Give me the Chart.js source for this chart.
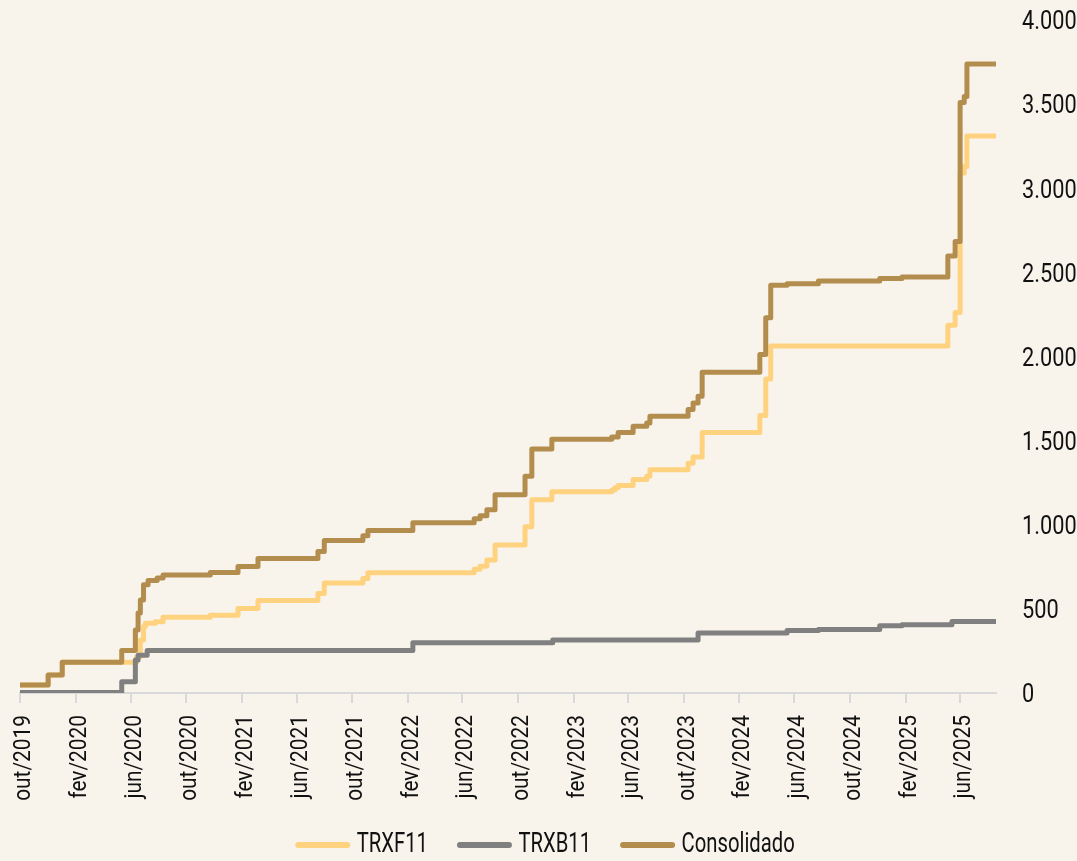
<!DOCTYPE html>
<html><head><meta charset="utf-8">
<script src="https://cdn.jsdelivr.net/npm/chart.js@4.4.1/dist/chart.umd.min.js"></script>
<style>html,body{margin:0;padding:0;background:#f8f4ec;overflow:hidden;}canvas{display:block;}</style>
</head><body>
<canvas id="c" width="1077" height="861"></canvas>
<script>
// ---- data ----
const tickDates = ['2019-10-01','2020-02-01','2020-06-01','2020-10-01','2021-02-01','2021-06-01','2021-10-01','2022-02-01','2022-06-01','2022-10-01','2023-02-01','2023-06-01','2023-10-01','2024-02-01','2024-06-01','2024-10-01','2025-02-01','2025-06-01'];
const tickLabels = ['out/2019','fev/2020','jun/2020','out/2020','fev/2021','jun/2021','out/2021','fev/2022','jun/2022','out/2022','fev/2023','jun/2023','out/2023','fev/2024','jun/2024','out/2024','fev/2025','jun/2025'];
const startDate = '2019-10-01';
const endDate = '2025-08-19';

const trxfDates = ['2019-10-01','2019-12-02','2020-01-02','2020-06-14','2020-06-22','2020-06-29','2020-07-03','2020-07-25','2020-08-11','2020-11-23','2021-01-23','2021-03-08','2021-07-18','2021-08-01','2021-10-25','2021-11-05','2022-06-27','2022-07-10','2022-07-25','2022-08-12','2022-10-17','2022-11-01','2022-12-15','2023-04-26','2023-05-03','2023-05-10','2023-06-12','2023-07-12','2023-07-19','2023-10-11','2023-10-22','2023-11-11','2024-03-17','2024-03-30','2024-04-10','2025-05-05','2025-05-21','2025-06-01','2025-06-10','2025-06-16'];
const trxfValues = [48,107,183,216,315,395,415,424,450,462,502,550,591,654,681,714,735,754,790,880,988,1148,1196,1207,1220,1234,1269,1289,1327,1366,1402,1549,1650,1866,2062,2186,2261,3090,3130,3311];

const trxbDates = ['2019-10-01','2020-05-12','2020-06-11','2020-06-17','2020-07-07','2022-02-12','2022-12-17','2023-11-02','2024-05-16','2024-07-24','2024-12-06','2025-01-24','2025-05-14'];
const trxbValues = [3,67,196,225,252,298,315,357,371,378,399,405,425];

const consDates = ['2019-10-01','2019-12-02','2020-01-02','2020-05-12','2020-06-11','2020-06-17','2020-06-22','2020-06-29','2020-07-09','2020-07-29','2020-08-11','2020-11-23','2021-01-23','2021-03-08','2021-07-18','2021-08-01','2021-10-25','2021-11-05','2022-02-12','2022-06-27','2022-07-10','2022-07-25','2022-08-12','2022-10-17','2022-11-01','2022-12-15','2023-04-26','2023-05-10','2023-06-12','2023-07-12','2023-07-19','2023-10-11','2023-10-22','2023-11-02','2023-11-11','2024-03-17','2024-03-30','2024-04-10','2024-05-16','2024-07-24','2024-12-06','2025-01-24','2025-05-05','2025-05-21','2025-06-01','2025-06-10','2025-06-16'];
const consValues = [48,107,183,252,375,476,553,643,668,684,702,716,752,800,841,907,934,966,1012,1036,1054,1089,1179,1288,1450,1508,1522,1549,1585,1605,1645,1685,1724,1764,1907,2012,2230,2423,2433,2449,2464,2472,2597,2684,3510,3545,3738];

// ---- condensed text rendering (horizontal squeeze of the installed font) ----
// keyed by font size: [horizontal scale, dx, dy] (dx/dy in the text's own frame)
const TEXTFX = {24:[0.87,0,4], 25:[0.87,0,3], 27:[0.75,-7,0]};
(function(){
  const P = CanvasRenderingContext2D.prototype;
  const origFill = P.fillText, origMeasure = P.measureText;
  function fx(ctx){ const m = /(\d+(?:\.\d+)?)px/.exec(ctx.font); return (m && TEXTFX[+m[1]]) || null; }
  P.fillText = function(t,x,y,mw){
    const f = fx(this);
    if (!f) return mw === undefined ? origFill.call(this,t,x,y) : origFill.call(this,t,x,y,mw);
    this.save(); this.translate(x + f[1], y + f[2]); this.scale(f[0],1); origFill.call(this,t,0,0); this.restore();
  };
  P.measureText = function(t){
    const m = origMeasure.call(this,t); const f = fx(this);
    if (!f) return m;
    const s = f[0];
    return {width:m.width*s, actualBoundingBoxAscent:m.actualBoundingBoxAscent, actualBoundingBoxDescent:m.actualBoundingBoxDescent,
      actualBoundingBoxLeft:m.actualBoundingBoxLeft*s, actualBoundingBoxRight:m.actualBoundingBoxRight*s,
      fontBoundingBoxAscent:m.fontBoundingBoxAscent, fontBoundingBoxDescent:m.fontBoundingBoxDescent};
  };
})();

// ---- helpers ----
const DAY = 86400000;
function dayOf(s){ return (Date.UTC(+s.slice(0,4), +s.slice(5,7)-1, +s.slice(8,10)) - Date.UTC(+startDate.slice(0,4), +startDate.slice(5,7)-1, +startDate.slice(8,10))) / DAY; }
function series(dates, values){
  const pts = dates.map((d,i)=>({x:dayOf(d), y:values[i]}));
  pts.push({x:dayOf(endDate), y:values[values.length-1]});
  return pts;
}
function fmt(v){ return String(v).replace(/\B(?=(\d{3})+(?!\d))/g,'.'); }

const FONT = "Roboto, 'Open Sans', sans-serif";
const BG = '#f8f4ec';
const AREA_BOTTOM = 693, LEGEND_Y = 845;
let xAxisHeight = 114;

const bgPlugin = {id:'bg', beforeDraw(chart){ const c=chart.ctx; c.save(); c.fillStyle=BG; c.fillRect(0,0,chart.width,chart.height); c.restore(); }};

const common = {pointRadius:0, pointHoverRadius:0, borderWidth:5, stepped:true, fill:false, borderCapStyle:'round', borderJoinStyle:'round', tension:0};

const chart = new Chart(document.getElementById('c'), {
  type:'line',
  data:{datasets:[
    Object.assign({label:'TRXF11', data:series(trxfDates,trxfValues), borderColor:'#ffd280', backgroundColor:'#ffd280', order:2}, common),
    Object.assign({label:'TRXB11', data:series(trxbDates,trxbValues), borderColor:'#808080', backgroundColor:'#808080', order:1}, common),
    Object.assign({label:'Consolidado', data:series(consDates,consValues), borderColor:'#b38d4d', backgroundColor:'#b38d4d', order:0}, common)
  ]},
  options:{
    responsive:false, animation:false, devicePixelRatio:1,
    layout:{padding:{left:20, top:20, right:0, bottom:-9}},
    plugins:{
      tooltip:{enabled:false},
      legend:{position:'bottom', labels:{
        sort:(a,b)=>a.datasetIndex-b.datasetIndex,
        generateLabels(ch){
          const items = Chart.defaults.plugins.legend.labels.generateLabels(ch);
          items.forEach(it=>{ it.lineWidth = 0; it.fillStyle = it.strokeStyle; });
          return items;
        },
        boxWidth:55, boxHeight:6, padding:22, color:'#111',
        font:{family:FONT, size:27},
        useBorderRadius:true, borderRadius:3
      }}
    },
    scales:{
      x:{type:'linear', min:0, max:dayOf(endDate),
        afterBuildTicks(s){ s.ticks = tickDates.map(d=>({value:dayOf(d)})); },
        afterFit(s){ s.height = xAxisHeight; s.paddingLeft = 0; s.paddingRight = 0; },
        ticks:{autoSkip:false, maxRotation:90, minRotation:90, padding:12, color:'#111', font:{family:FONT, size:24},
          callback(v){ const i = tickDates.findIndex(d=>dayOf(d)===v); return i>=0 ? tickLabels[i] : ''; }},
        grid:{display:true, drawOnChartArea:false, drawTicks:true, tickLength:10, color:'#d9d9d9', lineWidth:2},
        border:{display:true, color:'#d9d9d9', width:2}
      },
      y:{position:'right', min:0, max:4000,
        afterFit(s){ s.width = 81; s.paddingTop = 12; s.paddingBottom = 12; },
        ticks:{stepSize:500, padding:26, color:'#111', font:{family:FONT, size:25}, callback:(v)=>fmt(v)},
        grid:{display:false, drawTicks:false},
        border:{display:false}
      }
    }
  },
  plugins:[bgPlugin]
});

// place legend row and plot bottom where the reference has them
for (let i = 0; i < 2; i++) {
  const hb = chart.legend.legendHitBoxes[0];
  const center = hb.top + hb.height / 2;
  chart.options.layout.padding.bottom -= (LEGEND_Y - center);
  chart.update();
  xAxisHeight += chart.chartArea.bottom - AREA_BOTTOM;
  chart.update();
}
</script>
</body></html>
